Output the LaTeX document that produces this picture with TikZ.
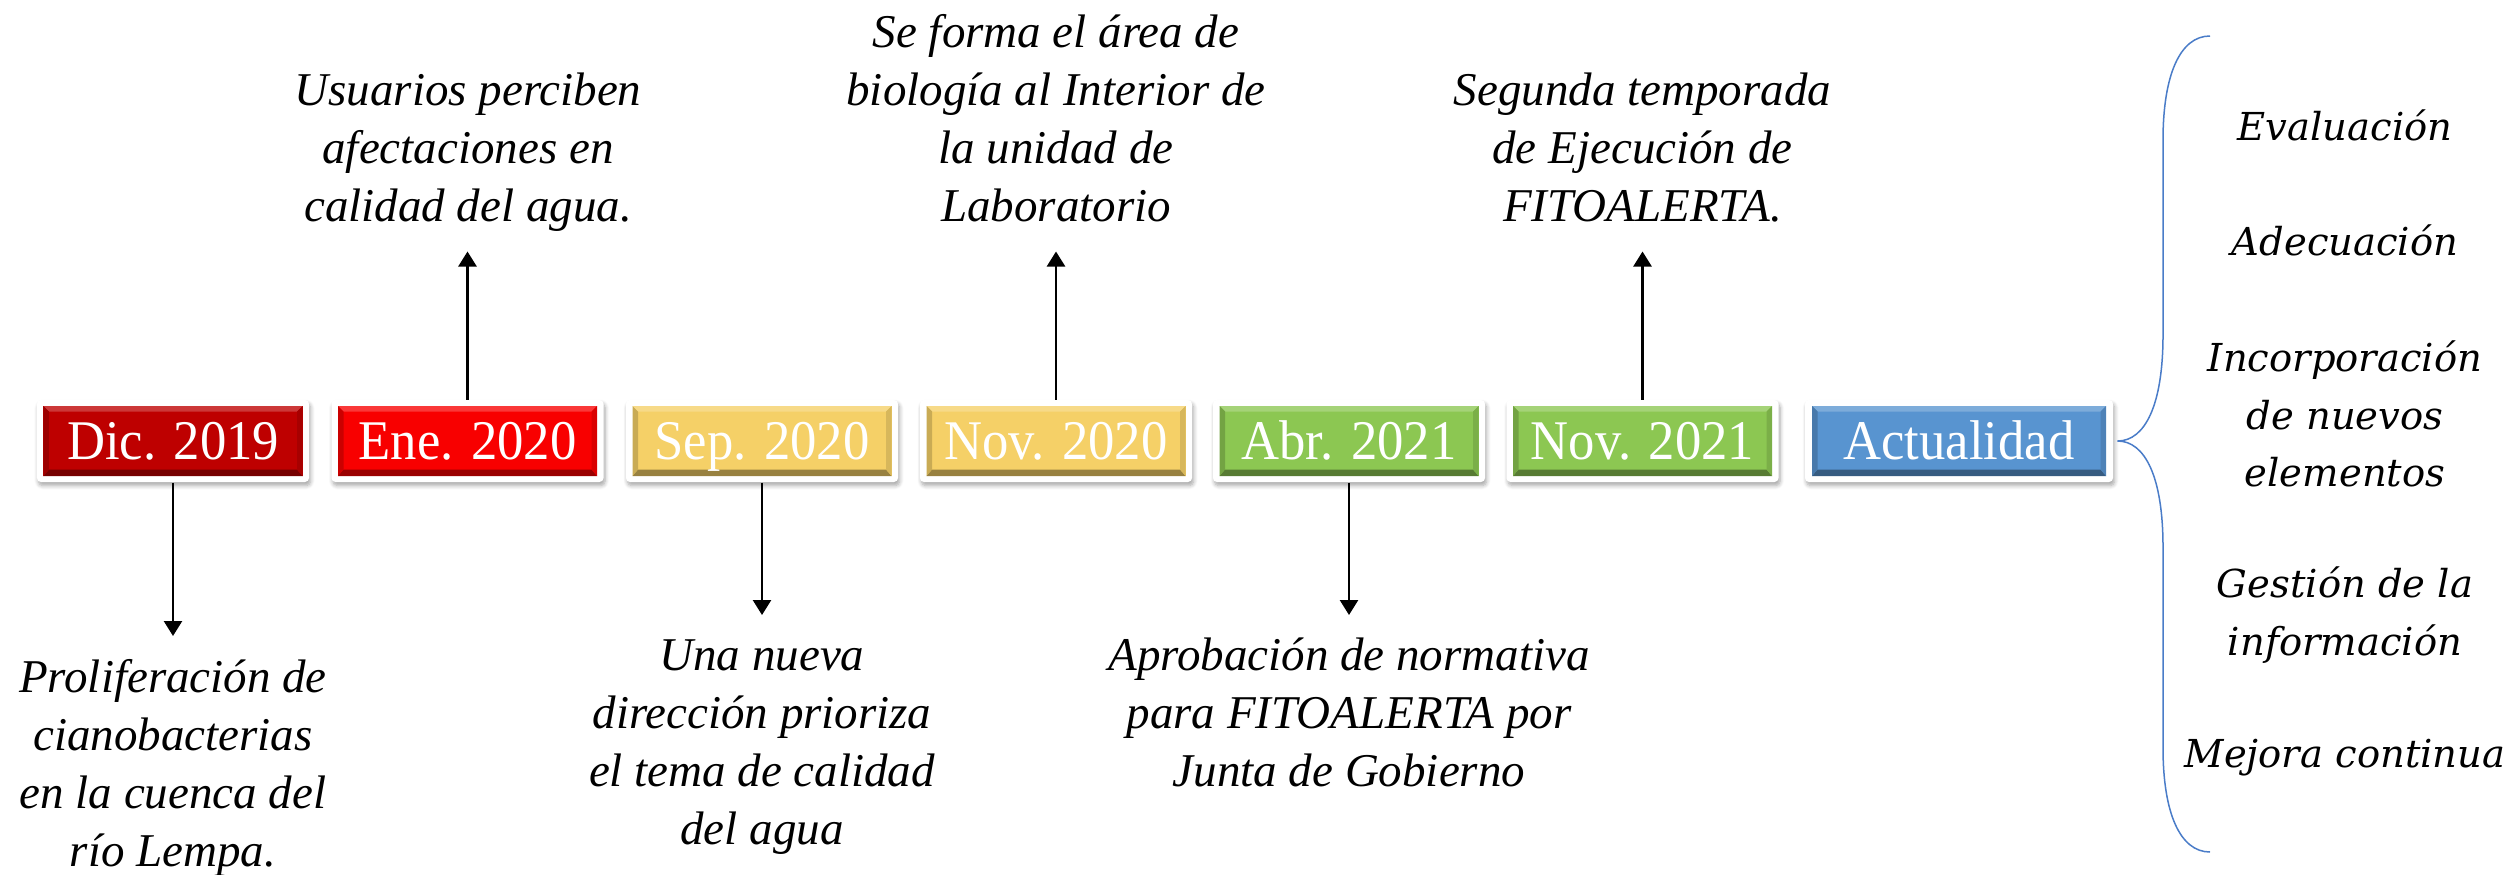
\documentclass[tikz,border=0pt]{standalone}
\usepackage{fontspec}
\setmainfont{Liberation Serif}
\newfontfamily\datefont[FakeStretch=0.94]{Liberation Serif}
\newfontfamily\calfont{DejaVu Serif}
\usetikzlibrary{arrows.meta,calc,shadows.blur}
\definecolor{cdic}{HTML}{BE0000}
\definecolor{cene}{HTML}{F80000}
\definecolor{cgold}{HTML}{F5D067}
\definecolor{cgreen}{HTML}{8CC752}
\definecolor{cblue}{HTML}{5894D0}
\definecolor{cbrace}{HTML}{4A7CC8}
\tikzset{
  frame/.style={fill=white, draw=none, rounded corners=1.6pt, inner sep=0pt,
    minimum height=32.8pt, minimum width=#1,
    blur shadow={shadow xshift=0.6pt, shadow yshift=-1.4pt, shadow blur steps=6, shadow opacity=35, shadow blur radius=1.6pt}},
  datebox/.style={fill=#1, draw=none, inner sep=0pt, minimum height=28pt,
    text=white, font=\datefont\fontsize{22.4pt}{26pt}\selectfont,
    text height=14.8pt, text depth=0pt,
    path picture={
      \coordinate (pa) at (path picture bounding box.south west);
      \coordinate (pb) at (path picture bounding box.north east);
      \fill[#1!78!white] (pa|-pb) -- (pb) -- ($(pb)+(-2.2pt,-2.2pt)$) -- ($(pa|-pb)+(2.2pt,-2.2pt)$) -- cycle;
      \fill[#1!62!black] (pa) -- (pb|-pa) -- ($(pb|-pa)+(-2.2pt,2.6pt)$) -- ($(pa)+(2.2pt,2.6pt)$) -- cycle;
      \fill[#1!82!black] (pa) -- ($(pa)+(2.2pt,2.6pt)$) -- ($(pa|-pb)+(2.2pt,-2.2pt)$) -- (pa|-pb) -- cycle;
      \fill[#1!88!black] (pb|-pa) -- ($(pb|-pa)+(-2.2pt,2.6pt)$) -- ($(pb)+(-2.2pt,-2.2pt)$) -- (pb) -- cycle;
    }},
  evtext/.style={align=center, inner sep=0pt, font=\fontsize{18.8pt}{23.2pt}\selectfont\itshape},
  rtext/.style={align=center, inner sep=0pt, font=\calfont\itshape\fontsize{15.4pt}{23pt}\selectfont},
  arr/.style={line width=1pt, -{Triangle[width=7.2pt,length=6pt]}},
  bracestyle/.style={draw=cbrace, line width=0.6pt}
}
\begin{document}
\begin{tikzpicture}[x=0.4pt, y=-0.4pt]
\useasboundingbox (0,0) rectangle (2512,874);

% date boxes
\node[frame=108.8pt] (dic) at (173,441) {};
\node[datebox=cdic, minimum width=103.6pt] (dicb) at (dic.center) {Dic. 2019};
\node[frame=108.8pt] (ene) at (467.5,441) {};
\node[datebox=cene, minimum width=103.6pt] (eneb) at (ene.center) {Ene. 2020};
\node[frame=108.8pt] (sep) at (762,441) {};
\node[datebox=cgold, minimum width=103.6pt] (sepb) at (sep.center) {Sep. 2020};
\node[frame=108.8pt] (nov) at (1056,441) {};
\node[datebox=cgold, minimum width=103.6pt] (novb) at (nov.center) {Nov. 2020};
\node[frame=108.8pt] (abr) at (1349,441) {};
\node[datebox=cgreen, minimum width=103.6pt] (abrb) at (abr.center) {Abr. 2021};
\node[frame=108.8pt] (nvb) at (1642.5,441) {};
\node[datebox=cgreen, minimum width=103.6pt] (nvbb) at (nvb.center) {Nov. 2021};
\node[frame=123.2pt] (act) at (1959,441) {};
\node[datebox=cblue, minimum width=117.6pt] (actb) at (act.center) {Actualidad};

% event texts
\node[evtext, anchor=north] (dict) at (173,651) {\strut Proliferación de\\cianobacterias\\en la cuenca del\\río Lempa.};
\node[evtext, anchor=south] (enet) at (468,239) {Usuarios perciben\\afectaciones en\\calidad del agua.\strut};
\node[evtext, anchor=north] (sept) at (762,629) {\strut Una nueva\\dirección prioriza\\el tema de calidad\\del agua};
\node[evtext, anchor=south] (novt) at (1056,239) {Se forma el área de\\biología al Interior de\\la unidad de\\Laboratorio\strut};
\node[evtext, anchor=north] (abrt) at (1349,629) {\strut Aprobación de normativa\\para FITOALERTA por\\Junta de Gobierno};
\node[evtext, anchor=south] (nvbt) at (1642.5,239) {Segunda temporada\\de Ejecución de\\FITOALERTA.\strut};

% connectors
\draw[arr, shorten >=6pt] (dic.south) -- (dic.south |- dict.north);
\draw[arr, shorten >=5pt] (ene.north) -- (ene.north |- enet.south);
\draw[arr, shorten >=5.6pt] (sep.south) -- (sep.south |- sept.north);
\draw[arr, shorten >=5pt] (nov.north) -- (nov.north |- novt.south);
\draw[arr, shorten >=5.6pt] (abr.south) -- (abr.south |- abrt.north);
\draw[arr, shorten >=5pt] (nvb.north) -- (nvb.north |- nvbt.south);

% brace
\coordinate (btip) at ($(act.east)+(4,0)$);
\draw[bracestyle] (2210,36) .. controls (2180,36) and (2163,75) .. (2163,140)
  -- (2163,335) .. controls (2163,405) and (2145,441) .. (btip)
  .. controls (2145,441) and (2163,477) .. (2163,547)
  -- (2163,748) .. controls (2163,813) and (2180,852) .. (2210,852);

% right texts
\node[rtext] (r1) at (2345,125) {Evaluación};
\node[rtext] (r2) at (2345,240) {Adecuación};
\node[rtext] (r3) at (2345,414) {Incorporación\\de nuevos\\elementos};
\node[rtext] (r4) at (2345,615) {Gestión de la\\información};
\node[rtext] (r5) at (2345,758) {Mejora continua};
\end{tikzpicture}
\end{document}
